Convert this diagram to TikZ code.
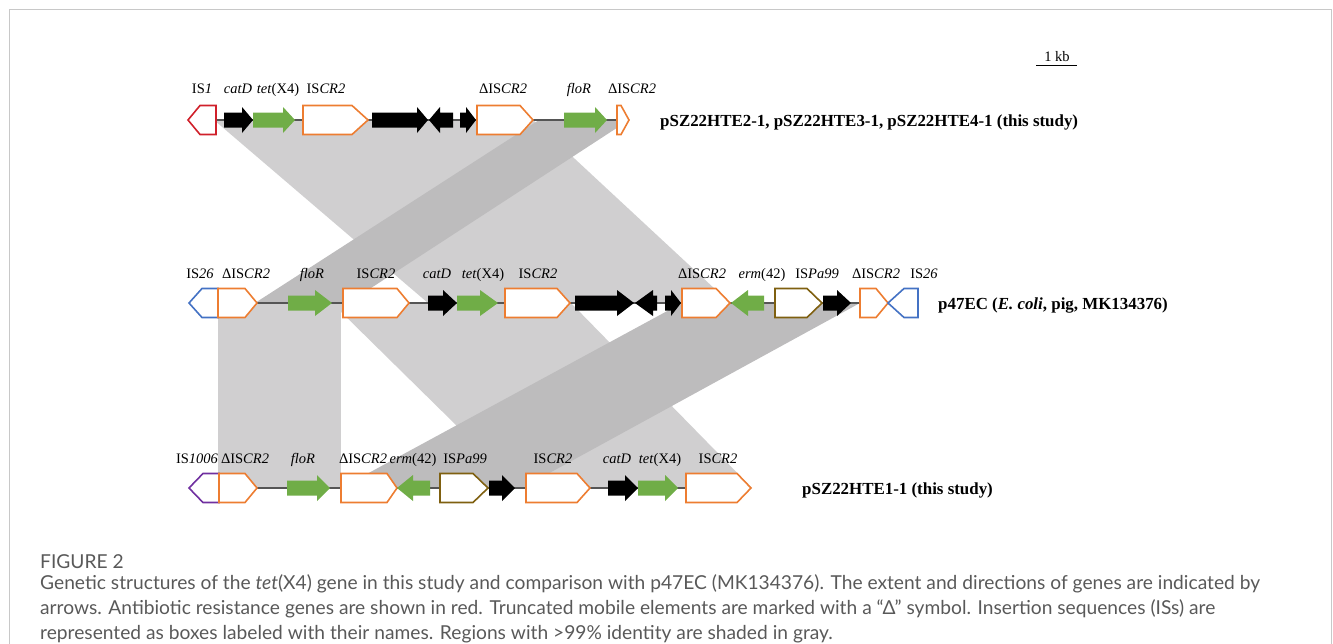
\documentclass[tikz,border=0pt]{standalone}
\usepackage{fontspec}
\setmainfont{Liberation Serif}
\newfontfamily\capfont{Lato}
\usepackage{graphicx}

% gene colours
\definecolor{isorange}{HTML}{ED7D31}
\definecolor{resgreen}{HTML}{70AD47}
\definecolor{isred}{HTML}{D0202A}
\definecolor{isblue}{HTML}{4472C4}
\definecolor{ispurple}{HTML}{7030A0}
\definecolor{isolive}{HTML}{7F6010}
\definecolor{shadelight}{HTML}{D0CFD0}
\definecolor{shadedark}{HTML}{BDBCBD}
\definecolor{trackline}{HTML}{555555}
\definecolor{framegray}{HTML}{C8C8C8}
\definecolor{captext}{HTML}{595959}

% half heights of boxes, arrow shafts and arrow heads
\def\bh{14.5}
\def\sh{7.5}
\def\hh{13}

% box element: start, shoulder, tip, track y, style (works in both directions)
\newcommand\gbox[5]{\draw[#5] (#1,#4-\bh) -- (#2,#4-\bh) -- (#3,#4) -- (#2,#4+\bh) -- (#1,#4+\bh) -- cycle;}
% arrow element: tail, head start, tip, track y, style
\newcommand\garrow[5]{\fill[#5] (#1,#4-\sh) -- (#2,#4-\sh) -- (#2,#4-\hh) -- (#3,#4) -- (#2,#4+\hh) -- (#2,#4+\sh) -- (#1,#4+\sh) -- cycle;}

\tikzset{
  x=1pt, y=-1pt,
  elem/.style={fill=white, line width=1.6pt, line join=miter},
  iscr/.style={elem, draw=isorange},
  isone/.style={elem, draw=isred},
  istwentysix/.style={elem, draw=isblue},
  isthousand/.style={elem, draw=ispurple},
  ispa/.style={elem, draw=isolive},
  orf/.style={black},
  resgene/.style={resgreen},
  lightshade/.style={fill=shadelight},
  darkshade/.style={fill=shadedark},
  trackline/.style={draw=trackline, line width=1.1pt},
  lbl/.style={inner sep=0pt, anchor=base, font=\fontsize{14.5}{17}\selectfont},
  plasmid/.style={inner sep=0pt, anchor=base west, font=\fontsize{16.9}{19}\selectfont\bfseries},
  captxt/.style={inner sep=0pt, anchor=base west, text=captext, font=\capfont\fontsize{19.2}{22}\selectfont},
}

\begin{document}
\begin{tikzpicture}
\useasboundingbox (0,0) rectangle (1333,643);
\draw[framegray, line width=1pt] (9.5,650) -- (9.5,9.5) -- (1331.5,9.5) -- (1331.5,650);

% regions of identity between neighbouring maps
\fill[lightshade] (214,120) -- (533,120) -- (730,303) -- (428,303) -- cycle;
\fill[darkshade]  (539,120) -- (629,120) -- (348,303) -- (255,303) -- cycle;
\fill[lightshade] (218,303) -- (341,303) -- (341,488) -- (218,488) -- cycle;
\fill[lightshade] (332,303) -- (571,303) -- (752,488) -- (520,488) -- cycle;
\fill[darkshade]  (682,303) -- (860,303) -- (522,488) -- (341,488) -- cycle;

% scale bar
\draw[line width=1pt] (1036,65) -- (1077,65);
\node[lbl] (kb) at (1057,61) {1 kb};

% ---------------- pSZ22HTE2-1 / 3-1 / 4-1 ----------------
\draw[trackline] (216,120) -- (617,120);
\gbox{216}{200}{188}{120}{isone}
\garrow{224}{242}{253}{120}{orf}
\garrow{253}{283}{295}{120}{resgene}
\gbox{303}{352}{368}{120}{iscr}
\garrow{372}{417}{428}{120}{orf}
\garrow{453}{440}{429}{120}{orf}
\garrow{460}{466}{476}{120}{orf}
\gbox{477}{520}{533}{120}{iscr}
\garrow{564}{595}{607}{120}{resgene}
\gbox{617}{621}{629}{120}{iscr}

\node[lbl] (a1) at (202,93) {IS\textit{1}};
\node[lbl] (a2) at (238,93) {\textit{catD}};
\node[lbl] (a3) at (278,93) {\textit{tet}(X4)};
\node[lbl] (a4) at (326,93) {IS\textit{CR2}};
\node[lbl] (a5) at (503,93) {ΔIS\textit{CR2}};
\node[lbl] (a6) at (579,93) {\textit{floR}};
\node[lbl] (a7) at (632,93) {ΔIS\textit{CR2}};
\node[plasmid] (ta) at (660,126) {pSZ22HTE2-1, pSZ22HTE3-1, pSZ22HTE4-1 (this study)};

% ---------------- p47EC ----------------
\draw[trackline] (218,303) -- (860,303);
\gbox{218}{202}{189}{303}{istwentysix}
\gbox{218}{245}{257}{303}{iscr}
\garrow{288}{315}{332}{303}{resgene}
\gbox{343}{397}{409}{303}{iscr}
\garrow{428}{443}{457}{303}{orf}
\garrow{457}{480}{498}{303}{resgene}
\gbox{505}{557}{570}{303}{iscr}
\garrow{575}{617}{634}{303}{orf}
\garrow{657}{653}{635}{303}{orf}
\garrow{665}{671}{681}{303}{orf}
\gbox{682}{716}{730}{303}{iscr}
\garrow{764}{748}{731}{303}{resgene}
\gbox{775}{807}{822}{303}{ispa}
\garrow{823}{837}{851}{303}{orf}
\gbox{860}{876}{888}{303}{iscr}
\gbox{918}{904}{888}{303}{istwentysix}

\node[lbl] (b1) at (200,278) {IS\textit{26}};
\node[lbl] (b2) at (246,278) {ΔIS\textit{CR2}};
\node[lbl] (b3) at (312,278) {\textit{floR}};
\node[lbl] (b4) at (376,278) {IS\textit{CR2}};
\node[lbl] (b5) at (437,278) {\textit{catD}};
\node[lbl] (b6) at (483,278) {\textit{tet}(X4)};
\node[lbl] (b7) at (538,278) {IS\textit{CR2}};
\node[lbl] (b8) at (702,278) {ΔIS\textit{CR2}};
\node[lbl] (b9) at (762,278) {\textit{erm}(42)};
\node[lbl] (b10) at (817,278) {IS\textit{Pa99}};
\node[lbl] (b11) at (876,278) {ΔIS\textit{CR2}};
\node[lbl] (b12) at (924,278) {IS\textit{26}};
\node[plasmid] (tb) at (938,309) {p47EC (\textit{E. coli}, pig, MK134376)};

% ---------------- pSZ22HTE1-1 ----------------
\draw[trackline] (219,488) -- (686,488);
\gbox{219}{203}{189}{488}{isthousand}
\gbox{219}{245}{257}{488}{iscr}
\garrow{287}{317}{330}{488}{resgene}
\gbox{341}{387}{397}{488}{iscr}
\garrow{430}{413}{397}{488}{resgene}
\gbox{440}{473}{488}{488}{ispa}
\garrow{489}{502}{515}{488}{orf}
\gbox{526}{577}{590}{488}{iscr}
\garrow{608}{625}{638}{488}{orf}
\garrow{638}{665}{678}{488}{resgene}
\gbox{686}{737}{751}{488}{iscr}

\node[lbl] (c1) at (197,463) {IS\textit{1006}};
\node[lbl] (c2) at (245,463) {ΔIS\textit{CR2}};
\node[lbl] (c3) at (303,463) {\textit{floR}};
\node[lbl] (c4) at (363,463) {ΔIS\textit{CR2}};
\node[lbl] (c5) at (413,463) {\textit{erm}(42)};
\node[lbl] (c6) at (465,463) {IS\textit{Pa99}};
\node[lbl] (c7) at (553,463) {IS\textit{CR2}};
\node[lbl] (c8) at (617,463) {\textit{catD}};
\node[lbl] (c9) at (660,463) {\textit{tet}(X4)};
\node[lbl] (c10) at (718,463) {IS\textit{CR2}};
\node[plasmid] (tc) at (802,494) {pSZ22HTE1-1 (this study)};

% caption
\node[captxt] (fig) at (40,568) {FIGURE 2};
\node[captxt] (l1) at (40,589) {Genetic structures of the \textit{tet}(X4) gene in this study and comparison with p47EC (MK134376). The extent and directions of genes are indicated by};
\node[captxt] (l2) at (40,614) {arrows. Antibiotic resistance genes are shown in red. Truncated mobile elements are marked with a “Δ” symbol. Insertion sequences (ISs) are};
\node[captxt] (l3) at (40,639) {represented as boxes labeled with their names. Regions with >99\% identity are shaded in gray.};
\end{tikzpicture}
\end{document}
